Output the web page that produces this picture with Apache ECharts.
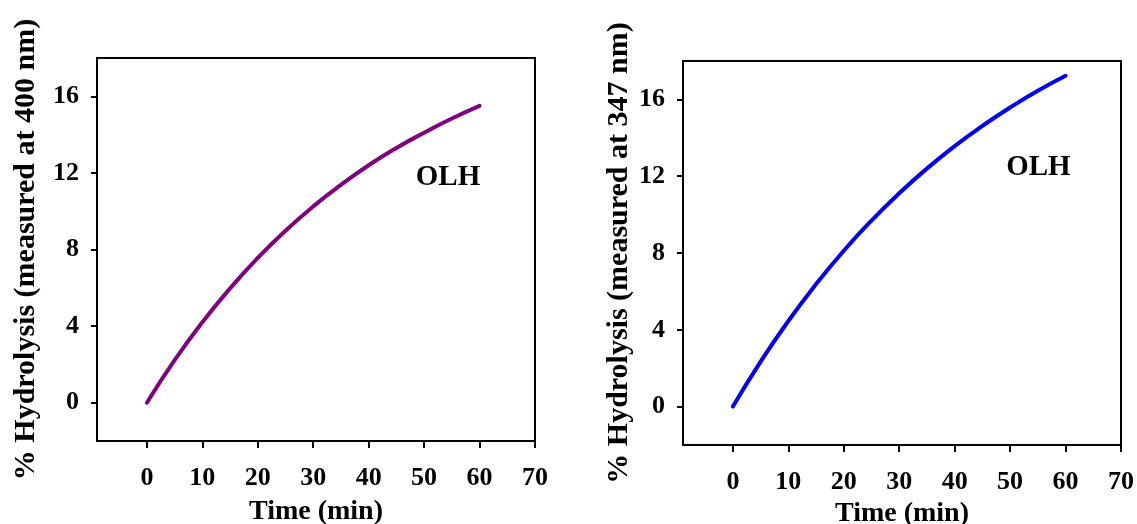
<!DOCTYPE html>
<html>
<head>
<meta charset="utf-8">
<script src="https://cdn.jsdelivr.net/npm/echarts@6/dist/echarts.min.js"></script>
<style>
  html, body { margin: 0; padding: 0; background: #fff; }
  #chart { width: 1137px; height: 524px; }
</style>
</head>
<body>
<div id="chart"></div>
<script>
// Time points (min)
const timeMin = [0, 5, 10, 15, 20, 25, 30, 35, 40, 45, 50, 55, 60];
// % hydrolysis measured at 400 nm
const hydrolysis400 = [0, 2.22, 4.2, 5.97, 7.56, 8.98, 10.25, 11.38, 12.4, 13.3, 14.1, 14.84, 15.5];
// % hydrolysis measured at 347 nm
const hydrolysis347 = [0, 2.34, 4.46, 6.38, 8.12, 9.69, 11.11, 12.4, 13.57, 14.62, 15.58, 16.45, 17.23];
// Tick values
const xTicks = [0, 10, 20, 30, 40, 50, 60, 70];
const yTicks = [0, 4, 8, 12, 16];
// Curve label and where it sits (data coordinates)
const seriesLabel = 'OLH';
const labelAt400 = [54.3, 11.75];
const labelAt347 = [55.1, 12.45];

const FONT = '"Liberation Serif", "Times New Roman", serif';

function pairs(xs, ys) { return xs.map((x, i) => [x, ys[i]]); }

function xAxisCfg(gridIndex, gap) {
  return {
    type: 'value', gridIndex, min: -9, max: 70,
    name: 'Time (min)', nameLocation: 'middle', nameGap: gap,
    nameTextStyle: { fontFamily: FONT, fontWeight: 'bold', fontSize: 28, color: '#000' },
    axisLine: { show: true, onZero: false, lineStyle: { color: '#000', width: 2 } },
    axisTick: { show: true, customValues: xTicks, length: 7, inside: false, lineStyle: { color: '#000', width: 2 } },
    axisLabel: { customValues: xTicks, margin: 24, fontFamily: FONT, fontWeight: 'bold', fontSize: 26, color: '#000' },
    splitLine: { show: false }
  };
}

function yAxisCfg(gridIndex, title, gap) {
  return {
    type: 'value', gridIndex, min: -2, max: 18,
    name: title, nameLocation: 'middle', nameGap: gap, nameRotate: 90,
    nameTextStyle: { fontFamily: FONT, fontWeight: 'bold', fontSize: 30, color: '#000' },
    axisLine: { show: true, onZero: false, lineStyle: { color: '#000', width: 2 } },
    axisTick: { show: true, customValues: yTicks, length: 6, inside: false, lineStyle: { color: '#000', width: 2 } },
    axisLabel: { customValues: yTicks, margin: 18, fontFamily: FONT, fontWeight: 'bold', fontSize: 26, color: '#000' },
    splitLine: { show: false }
  };
}

const gridBase = {
  show: true, borderColor: '#000', borderWidth: 2, backgroundColor: 'transparent',
  containLabel: false, outerBoundsMode: 'none'
};

const chart = echarts.init(document.getElementById('chart'), null, { renderer: 'canvas' });
chart.setOption({
  backgroundColor: '#fff',
  animation: false,
  grid: [
    Object.assign({ left: 97, top: 58, width: 438, height: 383 }, gridBase),
    Object.assign({ left: 683, top: 61, width: 438, height: 384 }, gridBase)
  ],
  xAxis: [xAxisCfg(0, 57), xAxisCfg(1, 51)],
  yAxis: [
    yAxisCfg(0, '% Hydrolysis (measured at 400 nm)', 56),
    yAxisCfg(1, '% Hydrolysis (measured at 347 nm)', 49)
  ],
  series: [
    {
      type: 'line', xAxisIndex: 0, yAxisIndex: 0, smooth: true, showSymbol: false,
      data: pairs(timeMin, hydrolysis400),
      lineStyle: { color: '#800080', width: 4, cap: 'round' }
    },
    {
      type: 'line', xAxisIndex: 1, yAxisIndex: 1, smooth: true, showSymbol: false,
      data: pairs(timeMin, hydrolysis347),
      lineStyle: { color: '#0000ff', width: 4, cap: 'round' }
    }
  ]
});

// Curve names placed through the axes' own coordinate conversion
const p400 = chart.convertToPixel({ xAxisIndex: 0, yAxisIndex: 0 }, labelAt400);
const p347 = chart.convertToPixel({ xAxisIndex: 1, yAxisIndex: 1 }, labelAt347);
const labelStyle = (p) => ({
  type: 'text', x: p[0], y: p[1],
  style: {
    text: seriesLabel, fill: '#000', align: 'center', verticalAlign: 'middle',
    font: 'bold 29px ' + FONT
  }
});
chart.setOption({ graphic: [labelStyle(p400), labelStyle(p347)] });
</script>
</body>
</html>
